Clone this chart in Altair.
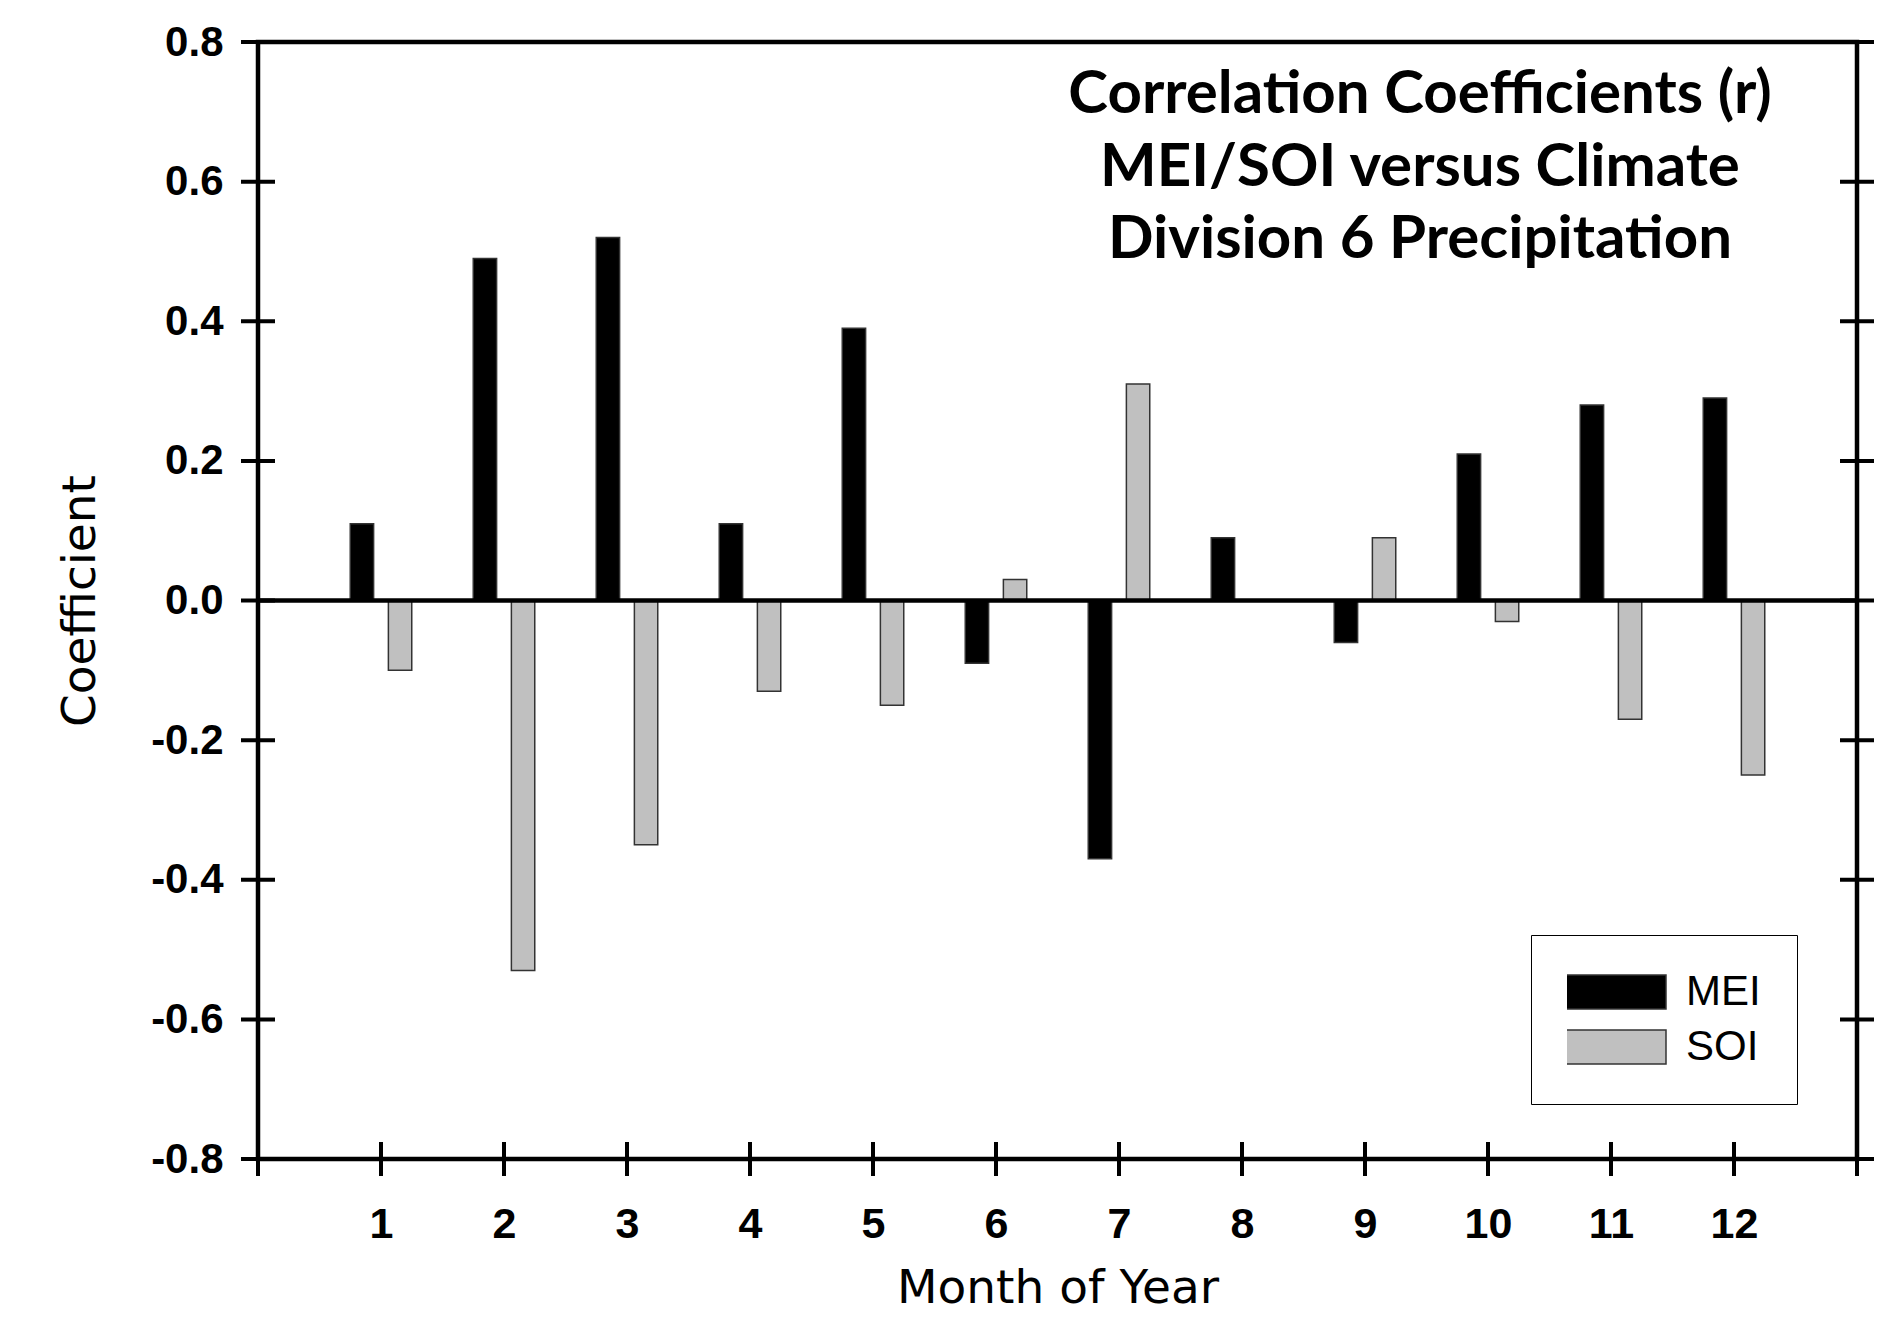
import altair as alt
import pandas as pd

# ---------------- data ----------------
months = list(range(1, 13))
mei = [0.11, 0.49, 0.52, 0.11, 0.39, -0.09, -0.37, 0.09, -0.06, 0.21, 0.28, 0.29]
soi = [-0.10, -0.53, -0.35, -0.13, -0.15, 0.03, 0.31, 0.00, 0.09, -0.03, -0.17, -0.25]
series_names = ["MEI", "SOI"]
series_colors = ["#000000", "#c0c0c0"]
y_tick_values = [-0.8, -0.6, -0.4, -0.2, 0.0, 0.2, 0.4, 0.6, 0.8]
x_tick_values = list(range(0, 14))
x_label_values = months
title_text = "Correlation Coefficients (r)\nMEI/SOI versus Climate\nDivision 6 Precipitation"

# ---------------- layout constants ----------------
W, H = 1599, 1117
X_DOM = [0, 13]
Y_DOM = [-0.8, 0.8]
BAR_W = 0.19
BAR_OFF = 0.155
TICK_PX = 17
dx_tick = TICK_PX * (X_DOM[1] - X_DOM[0]) / W
dy_tick = TICK_PX * (Y_DOM[1] - Y_DOM[0]) / H
LINE_W = 4.5

xscale = alt.Scale(domain=X_DOM, nice=False, zero=False)
yscale = alt.Scale(domain=Y_DOM, nice=False, zero=False)

x_axis = alt.Axis(
    values=x_label_values, format="d", ticks=False, domain=False, grid=False,
    labelFont="Liberation Sans", labelFontSize=43, labelFontWeight="bold",
    labelColor="black", labelPadding=44,
    title="Month of Year", titleFont="DejaVu Sans", titleFontSize=47,
    titleFontWeight="normal", titleColor="black", titlePadding=19)
y_axis = alt.Axis(
    values=y_tick_values,
    labelExpr="(datum.value < -0.0001 ? '-' : '') + format(abs(datum.value), '.1f')",
    ticks=False, domain=False, grid=False,
    labelFont="Liberation Sans", labelFontSize=42, labelFontWeight="bold",
    labelColor="black", labelPadding=35,
    title="Coefficient", titleFont="DejaVu Sans", titleFontSize=47,
    titleFontWeight="normal", titleColor="black", titlePadding=46)

bars_df = pd.DataFrame({
    "month": months * 2,
    "value": mei + soi,
    "series": [series_names[0]] * 12 + [series_names[1]] * 12,
})

bars = alt.Chart(bars_df).transform_calculate(
    off=f"datum.series == '{series_names[0]}' ? {-BAR_OFF} : {BAR_OFF}"
).transform_calculate(
    px=f"datum.month + datum.off - {BAR_W / 2}",
    px2=f"datum.month + datum.off + {BAR_W / 2}",
    py=f"datum.value",
    py2="0",
).mark_bar(stroke="#333333", strokeWidth=1.5).encode(
    x=alt.X("px:Q", scale=xscale, axis=x_axis),
    x2="px2:Q",
    y=alt.Y("py:Q", scale=yscale, axis=y_axis),
    y2="py2:Q",
    color=alt.Color("series:N", scale=alt.Scale(domain=series_names, range=series_colors),
                    legend=alt.Legend(
                        orient="none", legendX=1273, legendY=893, title=None,
                        direction="vertical",
                        symbolType="M-1,-0.5L2,-0.5L2,0.5L-1,0.5Z", symbolSize=4624,
                        symbolStrokeColor="#333333", symbolStrokeWidth=1.5,
                        symbolOffset=-4,
                        labelFont="Liberation Sans", labelFontSize=42, labelColor="black",
                        labelOffset=53, clipHeight=42, rowPadding=13, padding=36,
                        strokeColor="black", fillColor="white",
                        cornerRadius=0)),
)

zero_df = pd.DataFrame({"px": [X_DOM[0]], "px2": [X_DOM[1]], "py": [0.0]})
zero_line = alt.Chart(zero_df).mark_rule(color="black", strokeWidth=LINE_W).encode(
    x=alt.X("px:Q", scale=xscale, axis=x_axis), x2="px2:Q",
    y=alt.Y("py:Q", scale=yscale, axis=y_axis))

# crossing ticks on left and right frame lines
ytick_rows = []
for v in y_tick_values:
    for side in X_DOM:
        ytick_rows.append({"py": v, "px": side - dx_tick, "px2": side + dx_tick})
ytick_df = pd.DataFrame(ytick_rows)
yticks = alt.Chart(ytick_df).mark_rule(color="black", strokeWidth=4).encode(
    x=alt.X("px:Q", scale=xscale, axis=x_axis), x2="px2:Q",
    y=alt.Y("py:Q", scale=yscale, axis=y_axis))

# crossing ticks on the bottom frame line
xtick_df = pd.DataFrame({"px": x_tick_values,
                         "py": [Y_DOM[0] - dy_tick] * len(x_tick_values),
                         "py2": [Y_DOM[0] + dy_tick] * len(x_tick_values)})
xticks = alt.Chart(xtick_df).mark_rule(color="black", strokeWidth=4).encode(
    x=alt.X("px:Q", scale=xscale, axis=x_axis),
    y=alt.Y("py:Q", scale=yscale, axis=y_axis), y2="py2:Q")

title_df = pd.DataFrame({"text": [title_text], "px": [9.447], "py": [0.698]})
title = alt.Chart(title_df).mark_text(
    align="center", baseline="alphabetic", lineBreak="\n", lineHeight=72.5,
    font="Lato", fontSize=60, fontWeight="bold", color="black"
).encode(x=alt.X("px:Q", scale=xscale, axis=x_axis),
         y=alt.Y("py:Q", scale=yscale, axis=y_axis), text="text:N")

chart = alt.layer(bars, zero_line, yticks, xticks, title).properties(
    width=W, height=H,
    autosize=alt.AutoSizeParams(type="none"),
    padding={"left": 258, "top": 42, "right": 47, "bottom": 175},
    background="white",
).configure_view(stroke="black", strokeWidth=LINE_W)

chart.save("out.html", embed_options={"renderer": "svg", "actions": False})
